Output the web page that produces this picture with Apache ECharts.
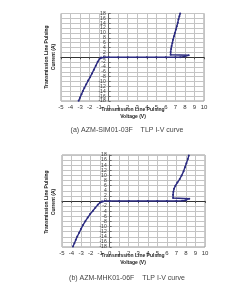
<!DOCTYPE html>
<html>
<head>
<meta charset="utf-8">
<script src="https://cdn.jsdelivr.net/npm/echarts@6/dist/echarts.min.js"></script>
<style>html,body{margin:0;padding:0;background:#fff;}#c{width:252px;height:295px;}</style>
</head>
<body>
<div id="c"></div>
<script>
// Chart (a) AZM-SIM01-03F
var voltageA = [-3.15,-3.0,-2.85,-2.7,-2.55,-2.35,-2.15,-1.95,-1.75,-1.55,-1.35,-1.15,-0.95,-0.8,-0.5,0,1,2,3,4,5,6,7,7.5,8.0,8.4,6.5,6.5,6.55,6.6,6.68,6.75,6.85,6.95,7.05,7.15,7.25,7.32,7.42,7.5];
var currentA = [-17.9,-16.6,-15.2,-13.9,-12.6,-11.1,-9.6,-8.2,-6.7,-5.1,-3.5,-1.9,-0.6,-0.1,0,0,0.01,0.01,0.01,0.01,0.02,0.02,0.02,0.05,0.3,0.85,1.0,2.2,3.4,4.6,5.9,7.2,8.6,10.0,11.4,12.8,14.2,15.6,16.9,18];
// Chart (b) AZM-MHK01-06F
var voltageB = [-3.85,-3.7,-3.55,-3.4,-3.2,-3.0,-2.8,-2.55,-2.3,-2.05,-1.75,-1.5,-1.25,-1.0,-0.8,-0.5,0,1,2,3,4,5,6,7,7.6,8.0,8.35,6.65,6.65,6.68,6.75,6.9,7.1,7.35,7.55,7.75,7.9,8.05,8.2,8.3];
var currentB = [-17.8,-16.5,-15.2,-13.9,-12.4,-10.9,-9.4,-7.9,-6.5,-5.1,-3.8,-2.6,-1.5,-0.6,-0.1,0,0,0.01,0.01,0.01,0.01,0.02,0.02,0.02,0.05,0.3,0.9,1.2,2.4,3.6,4.8,6.0,7.2,8.6,10.0,11.6,13.2,14.8,16.4,17.8];
var xTicks = {min:-5, max:10, step:1};
var yTicks = {min:-18, max:18, step:2};
var captionA = '(a) AZM-SIM01-03F    TLP I-V curve';
var captionB = '(b) AZM-MHK01-06F    TLP I-V curve';
var xTitle = 'Transmission Line Pulsing\nVoltage (V)';
var yTitle = 'Transmission Line Pulsing\nCurrent (A)';

function pairs(v, c){ return v.map(function(x,i){ return [x, c[i]]; }); }

var FONT = 'Liberation Sans';
var lineColor = '#2b2b80';
var GRID_W = 143;
var ZERO_DX = GRID_W * (0 - xTicks.min) / (xTicks.max - xTicks.min);
var plots = [
  {left:61, top:13.5, height:87.5},
  {left:62, top:155, height:92}
];

var grids = [], xAxes = [], yAxes = [];
plots.forEach(function(p, i){
  grids.push({left:p.left, top:p.top, width:GRID_W, height:p.height, show:true,
    borderColor:'#999', borderWidth:1, backgroundColor:'transparent'});
  xAxes.push({
    type:'value', gridIndex:i, min:xTicks.min, max:xTicks.max, interval:xTicks.step,
    axisLine:{onZero:true, lineStyle:{color:'#333', width:1}},
    axisTick:{show:true, length:2, lineStyle:{color:'#555'}},
    axisLabel:{fontSize:6, color:'#333', margin:3, fontFamily:FONT},
    splitLine:{show:true, lineStyle:{color:'#c4c4c4', width:1}}
  });
  yAxes.push({
    type:'value', gridIndex:i, min:yTicks.min, max:yTicks.max, interval:yTicks.step,
    axisLine:{show:false}, axisTick:{show:false}, axisLabel:{show:false},
    splitLine:{show:true, lineStyle:{color:'#c4c4c4', width:1}}
  });
});
// label-carrying axes that sit on x = 0 (grid starting at the zero voltage line)
plots.forEach(function(p, i){
  var gi = plots.length + i;
  grids.push({left:p.left + ZERO_DX, top:p.top, width:GRID_W - ZERO_DX, height:p.height, show:false});
  xAxes.push({type:'value', gridIndex:gi, min:0, max:xTicks.max, show:false});
  yAxes.push({
    type:'value', gridIndex:gi, min:yTicks.min, max:yTicks.max, interval:yTicks.step,
    position:'left',
    axisLine:{show:true, onZero:false, lineStyle:{color:'#666', width:1}},
    axisTick:{show:true, length:2, inside:true, lineStyle:{color:'#666'}},
    axisLabel:{fontSize:5, color:'#333', margin:3, fontFamily:FONT},
    splitLine:{show:false}
  });
});

function txt(text, x, y, size, bold, rot, color){
  return {type:'text', x:x, y:y, rotation:rot||0,
    style:{text:text, fontSize:size, fontWeight:bold?'bold':'normal', fontFamily:FONT,
      fill:color||'#222', align:'center', verticalAlign:'middle', lineHeight:size+2}};
}

var chart = echarts.init(document.getElementById('c'), null, {renderer:'canvas'});
chart.setOption({
  animation:false,
  backgroundColor:'#fff',
  grid:grids,
  xAxis:xAxes,
  yAxis:yAxes,
  series:[
    {type:'line', xAxisIndex:0, yAxisIndex:0, data:pairs(voltageA, currentA),
     symbol:'circle', symbolSize:2, showSymbol:true, z:5,
     lineStyle:{color:lineColor, width:1.4}, itemStyle:{color:lineColor}},
    {type:'line', xAxisIndex:1, yAxisIndex:1, data:pairs(voltageB, currentB),
     symbol:'circle', symbolSize:2, showSymbol:true, z:5,
     lineStyle:{color:lineColor, width:1.4}, itemStyle:{color:lineColor}}
  ],
  graphic:[
    txt(xTitle, 133, 113, 5, true),
    txt(yTitle, 50, 57, 5, true, Math.PI/2),
    txt(captionA, 127, 130, 7, false, 0, '#444'),
    txt(xTitle, 133, 259, 5, true),
    txt(yTitle, 50, 202, 5, true, Math.PI/2),
    txt(captionB, 127, 278, 7, false, 0, '#444')
  ]
});
</script>
</body>
</html>
